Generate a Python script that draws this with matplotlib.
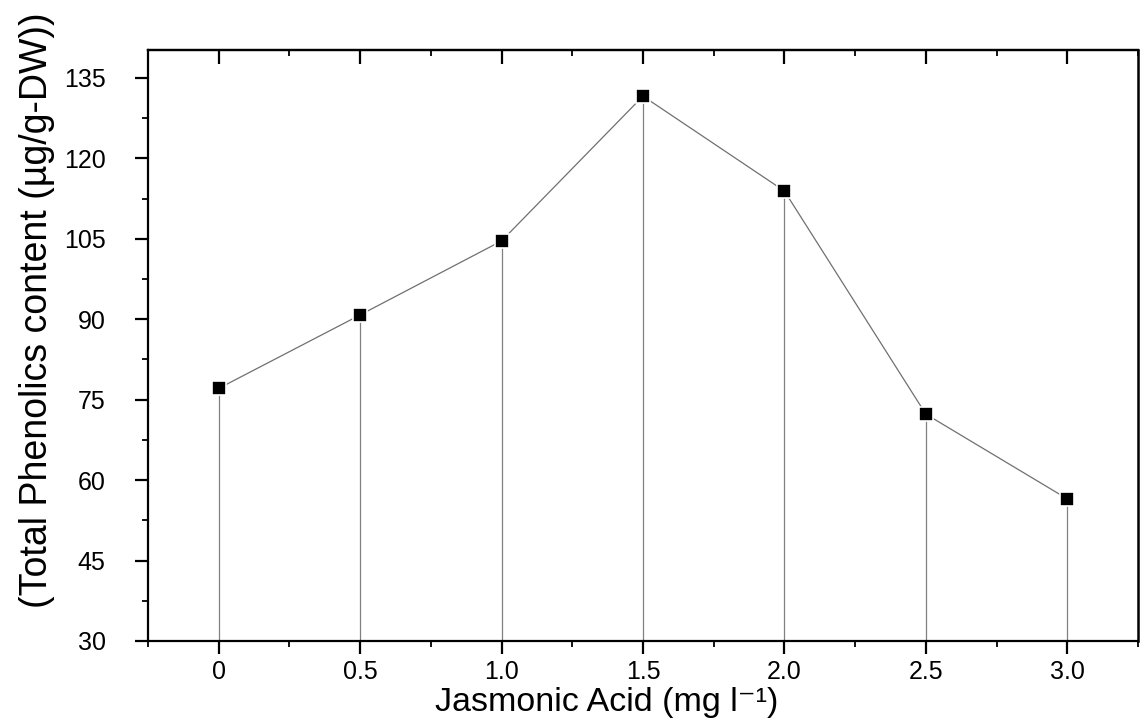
import numpy as np
import matplotlib
matplotlib.use('Agg')
import matplotlib.pyplot as plt
from matplotlib.ticker import MultipleLocator, FixedLocator

plt.rcParams['font.family'] = ['Liberation Sans', 'DejaVu Sans']

# jasmonic acid dose (mg/l) and total phenolics (ug/g DW)
ja_dose = [0, 0.5, 1.0, 1.5, 2.0, 2.5, 3.0]
dose_labels = ['0', '0.5', '1.0', '1.5', '2.0', '2.5', '3.0']
phenolics = [77.1, 90.8, 104.6, 131.6, 113.9, 72.3, 56.5]

fig = plt.figure(figsize=(11.4, 7.25), dpi=100)
ax = fig.add_axes([148/1140, 84/725, 990/1140, 591/725])

ymin = 30
# drop lines down to the axis
ax.vlines(ja_dose, ymin, phenolics, color='#808080', lw=0.9, zorder=1)
ax.plot(ja_dose, phenolics, color='#707070', lw=0.9, zorder=2)
ax.plot(ja_dose, phenolics, 's', color='black', ms=10.5, mec='white', mew=1.2, zorder=3, ls='none')

minor_x = np.arange(-0.25, 3.3, 0.5)
ax.set_xlim(-0.25, 3.25)
ax.set_ylim(30, 140.2)
ax.set_xticks(ja_dose)
ax.set_xticklabels(dose_labels)
ax.xaxis.set_minor_locator(FixedLocator(minor_x))
ax.set_yticks(np.arange(30, 136, 15))
ax.yaxis.set_minor_locator(MultipleLocator(7.5))

for s in ax.spines.values():
    s.set_linewidth(1.6)
ax.spines['right'].set_linewidth(1.8)

ax.tick_params(which='major', direction='out', length=9.5, width=1.6, labelsize=18, pad=4)
ax.tick_params(which='minor', direction='out', length=4, width=1.3)
ax.tick_params(axis='y', which='major', pad=21)

top = ax.secondary_xaxis('top')
top.set_xticks(ja_dose)
top.xaxis.set_minor_locator(FixedLocator(minor_x))
top.tick_params(which='major', direction='in', length=10, width=1.6, labeltop=False)
top.tick_params(which='minor', direction='in', length=4, width=1.3)
top.spines['top'].set_linewidth(1.6)

fig.text(607/1140, 1 - 703/725, 'Jasmonic Acid (mg l\u207b\u00b9)',
         ha='center', va='center', fontsize=24.5)
fig.text(37/1140, 1 - 310/725, '(Total Phenolics content (\u00b5g/g-DW))',
         ha='center', va='center', rotation=90, fontsize=27)

fig.savefig('out.png', dpi=100)
